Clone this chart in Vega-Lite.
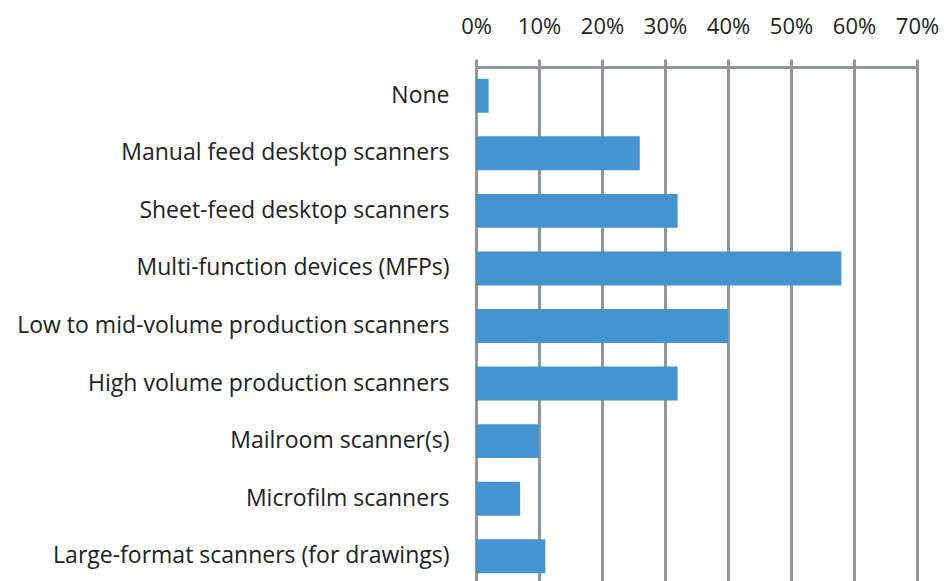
{
  "$schema": "https://vega.github.io/schema/vega-lite/v6.json",
  "autosize": "none",
  "width": 441,
  "height": 518,
  "padding": {"left": 476, "top": 67, "right": 27, "bottom": 0},
  "background": "white",
  "config": {"view": {"stroke": null}, "font": "Open Sans"},
  "data": {"values": [
    {"category": "None", "value": 0.02},
    {"category": "Manual feed desktop scanners", "value": 0.26},
    {"category": "Sheet-feed desktop scanners", "value": 0.32},
    {"category": "Multi-function devices (MFPs)", "value": 0.58},
    {"category": "Low to mid-volume production scanners", "value": 0.40},
    {"category": "High volume production scanners", "value": 0.32},
    {"category": "Mailroom scanner(s)", "value": 0.10},
    {"category": "Microfilm scanners", "value": 0.07},
    {"category": "Large-format scanners (for drawings)", "value": 0.11}
  ]},
  "mark": {"type": "bar", "color": "#4494CF"},
  "encoding": {
    "y": {
      "field": "category", "type": "nominal", "sort": null,
      "scale": {"paddingInner": 0.41, "paddingOuter": 0.205},
      "axis": {"title": null, "domain": false, "ticks": false, "labelPadding": 27,
        "labelFontSize": 23, "labelColor": "#222222", "labelFont": "Open Sans", "labelLimit": 500}
    },
    "x": {
      "field": "value", "type": "quantitative",
      "scale": {"domain": [0, 0.7], "nice": false},
      "axis": {"orient": "top", "title": null, "format": ".0%", "values": [0, 0.1, 0.2, 0.3, 0.4, 0.5, 0.6, 0.7],
        "grid": true, "gridColor": "#8F969C", "gridWidth": 3, "gridOpacity": 1,
        "domainColor": "#8F969C", "domainWidth": 3,
        "tickColor": "#8F969C", "tickWidth": 3, "tickSize": 8,
        "labelOverlap": false, "labelBound": false, "labelFlush": false,
        "labelPadding": 21, "labelFontSize": 22, "labelColor": "#222222", "labelFont": "Open Sans"}
    }
  }
}
